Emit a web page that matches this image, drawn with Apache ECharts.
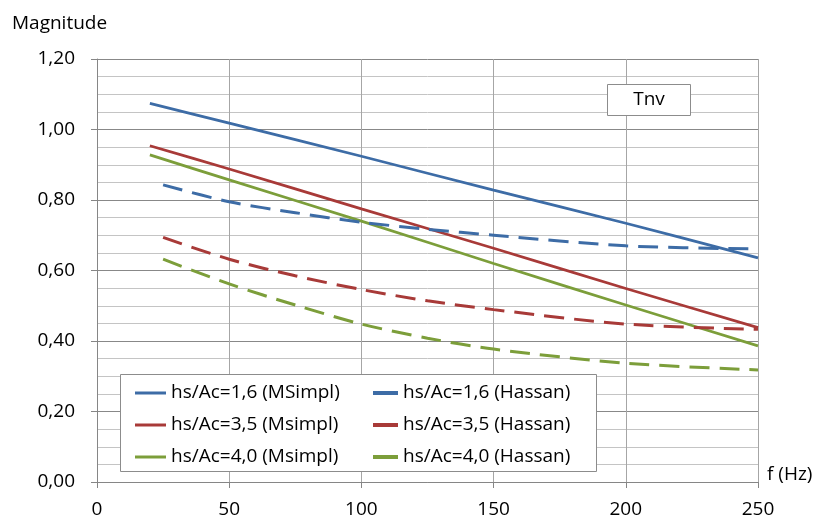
<!DOCTYPE html>
<html>
<head>
<meta charset="utf-8">
<script src="https://cdn.jsdelivr.net/npm/echarts@6/dist/echarts.min.js"></script>
<style>html,body{margin:0;padding:0;background:#fff}#c{width:816px;height:519px}</style>
</head>
<body>
<div id="c"></div>
<script>
var fSolid = [20, 50, 100, 150, 200, 250];
var fDashed = [25, 50, 75, 100, 125, 150, 200, 250];
var msimpl16 = [1.074, 1.018, 0.924, 0.828, 0.734, 0.636];
var msimpl35 = [0.954, 0.888, 0.775, 0.663, 0.549, 0.438];
var msimpl40 = [0.928, 0.857, 0.740, 0.620, 0.502, 0.386];
var hassan16 = [0.843, 0.795, 0.764, 0.737, 0.717, 0.700, 0.670, 0.661];
var hassan35 = [0.694, 0.632, 0.585, 0.546, 0.514, 0.489, 0.448, 0.433];
var hassan40 = [0.632, 0.562, 0.502, 0.448, 0.408, 0.377, 0.337, 0.318];
var names = ['hs/Ac=1,6 (MSimpl)', 'hs/Ac=3,5 (Msimpl)', 'hs/Ac=4,0 (Msimpl)',
             'hs/Ac=1,6 (Hassan)', 'hs/Ac=3,5 (Hassan)', 'hs/Ac=4,0 (Hassan)'];
var colors = ['#3D6CA6', '#A83A38', '#7C9E3A'];
var font = 'Open Sans';
var fs = 19;

function pairs(xs, ys) { return xs.map(function (x, i) { return [x, ys[i]]; }); }
function mk(name, xs, ys, color, dashed) {
  return {
    name: name, type: 'line', data: pairs(xs, ys), symbol: 'none', smooth: 0.3,
    lineStyle: { color: color, width: dashed ? 3 : 2.75, type: dashed ? [20, 10] : 'solid' },
    itemStyle: { color: color }, z: 2
  };
}

var chart = echarts.init(document.getElementById('c'));
chart.setOption({
  animation: false,
  backgroundColor: '#fff',
  textStyle: { fontFamily: font },
  grid: { left: 97, right: 58, top: 59, bottom: 37 },
  xAxis: {
    type: 'value', min: 0, max: 250, interval: 50,
    axisLine: { show: true, lineStyle: { color: '#868686' } },
    axisTick: { show: true, length: 6, lineStyle: { color: '#868686' } },
    axisLabel: { color: '#000', fontSize: fs, fontFamily: font, margin: 18 },
    splitLine: { show: true, lineStyle: { color: '#a6a6a6' } }
  },
  yAxis: {
    type: 'value', min: 0, max: 1.2, interval: 0.2,
    axisLine: { show: true, lineStyle: { color: '#868686' } },
    axisTick: { show: true, length: 6, lineStyle: { color: '#868686' } },
    axisLabel: { color: '#000', fontSize: fs, fontFamily: font, margin: 22,
      formatter: function (v) { return v.toFixed(2).replace('.', ','); } },
    splitLine: { show: true, lineStyle: { color: '#888888' } },
    minorSplitLine: { show: true, lineStyle: { color: '#c4c4c4' } },
    minorTick: { show: false, splitNumber: 4 }
  },
  legend: [
    {
      data: [names[0], names[1], names[2]],
      icon: 'rect',
      orient: 'vertical', left: 135, top: 382, padding: 0,
      itemWidth: 31, itemHeight: 3, itemGap: 10, z: 5,
      textStyle: { fontSize: fs, fontFamily: font, color: '#000', lineHeight: 22 }
    },
    {
      data: [names[3], names[4], names[5]],
      icon: 'rect',
      orient: 'vertical', left: 373, top: 382, padding: 0,
      itemWidth: 25, itemHeight: 4, itemGap: 10, z: 5,
      textStyle: { fontSize: fs, fontFamily: font, color: '#000', lineHeight: 22 }
    }
  ],
  graphic: [
    { type: 'rect', z: 3, shape: { x: 120.5, y: 374.5, width: 476, height: 97 },
      style: { fill: '#fff', stroke: '#8c8c8c', lineWidth: 1 } },
    { type: 'rect', z: 3, shape: { x: 607.5, y: 84.5, width: 83, height: 31 },
      style: { fill: '#fff', stroke: '#8c8c8c', lineWidth: 1 } },
    { type: 'text', z: 4, x: 649, y: 100,
      style: { text: 'Tnv', fontSize: fs, fontFamily: font, fill: '#000', textAlign: 'center', textVerticalAlign: 'middle' } },
    { type: 'text', z: 4, x: 12, y: 24,
      style: { text: 'Magnitude', fontSize: fs, fontFamily: font, fill: '#000', textAlign: 'left', textVerticalAlign: 'middle' } },
    { type: 'text', z: 4, x: 767, y: 475,
      style: { text: 'f (Hz)', fontSize: fs, fontFamily: font, fill: '#000', textAlign: 'left', textVerticalAlign: 'middle' } }
  ],
  series: [
    mk(names[0], fSolid, msimpl16, colors[0], false),
    mk(names[1], fSolid, msimpl35, colors[1], false),
    mk(names[2], fSolid, msimpl40, colors[2], false),
    mk(names[3], fDashed, hassan16, colors[0], true),
    mk(names[4], fDashed, hassan35, colors[1], true),
    mk(names[5], fDashed, hassan40, colors[2], true)
  ]
});
</script>
</body>
</html>
